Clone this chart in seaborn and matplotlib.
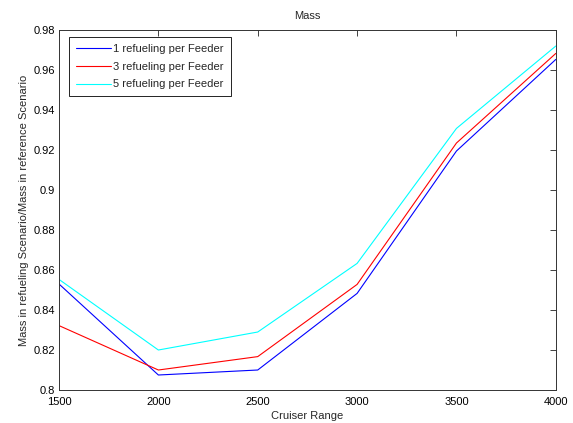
import pandas as pd
import matplotlib
matplotlib.use("Agg")
import matplotlib.pyplot as plt
import seaborn as sns

# --- Data ---
cruiser_range = [1500, 2000, 2500, 3000, 3500, 4000]
refuel_1 = [0.853, 0.8075, 0.810, 0.8483, 0.9195, 0.9653]
refuel_3 = [0.8322, 0.810, 0.8167, 0.8528, 0.9235, 0.9683]
refuel_5 = [0.8553, 0.820, 0.829, 0.8633, 0.9308, 0.972]
series_names = ["1 refueling per Feeder", "3 refueling per Feeder", "5 refueling per Feeder"]

df = pd.DataFrame({
    "range": cruiser_range * 3,
    "mass": refuel_1 + refuel_3 + refuel_5,
    "series": [n for n in series_names for _ in cruiser_range],
})

# --- Style ---
sns.set_style("white")
plt.rcParams["font.family"] = ["Liberation Sans", "DejaVu Sans"]
plt.rcParams["font.size"] = 8

fig = plt.figure(figsize=(5.73, 4.23), dpi=100)
ax = fig.add_axes([0.103, 0.078, 0.867, 0.851])

sns.lineplot(data=df, x="range", y="mass", hue="series",
             palette=["#0000ff", "#ff0000", "#00ffff"],
             linewidth=0.8, ax=ax)

ax.set_xlim(1500, 4000)
ax.set_ylim(0.8, 0.98)
ax.set_xticks(cruiser_range)
ax.set_yticks([0.8, 0.82, 0.84, 0.86, 0.88, 0.9, 0.92, 0.94, 0.96, 0.98])
ax.set_yticklabels(["0.8", "0.82", "0.84", "0.86", "0.88", "0.9", "0.92", "0.94", "0.96", "0.98"])
ax.tick_params(direction="in", length=4, width=0.6, top=True, right=True,
               labelsize=8, colors="#222222", labelcolor="black")
ax.tick_params(axis="x", pad=5)
ax.tick_params(axis="y", pad=3)
for s in ax.spines.values():
    s.set_linewidth(0.7)
    s.set_color("#333333")

ax.set_title("Mass", fontsize=8, pad=8)
ax.set_xlabel("Cruiser Range", fontsize=8, labelpad=3)
ax.set_ylabel("Mass in refueling Scenario/Mass in reference Scenario", fontsize=8, labelpad=3)

leg = ax.legend(loc="upper left", bbox_to_anchor=(0.02, 0.98), fontsize=8,
                frameon=True, fancybox=False, framealpha=1, edgecolor="black",
                handlelength=3.2, handletextpad=0.2, borderpad=0.6, labelspacing=0.7,
                borderaxespad=0)
leg.get_frame().set_linewidth(0.6)

fig.savefig("out.png", dpi=100)
